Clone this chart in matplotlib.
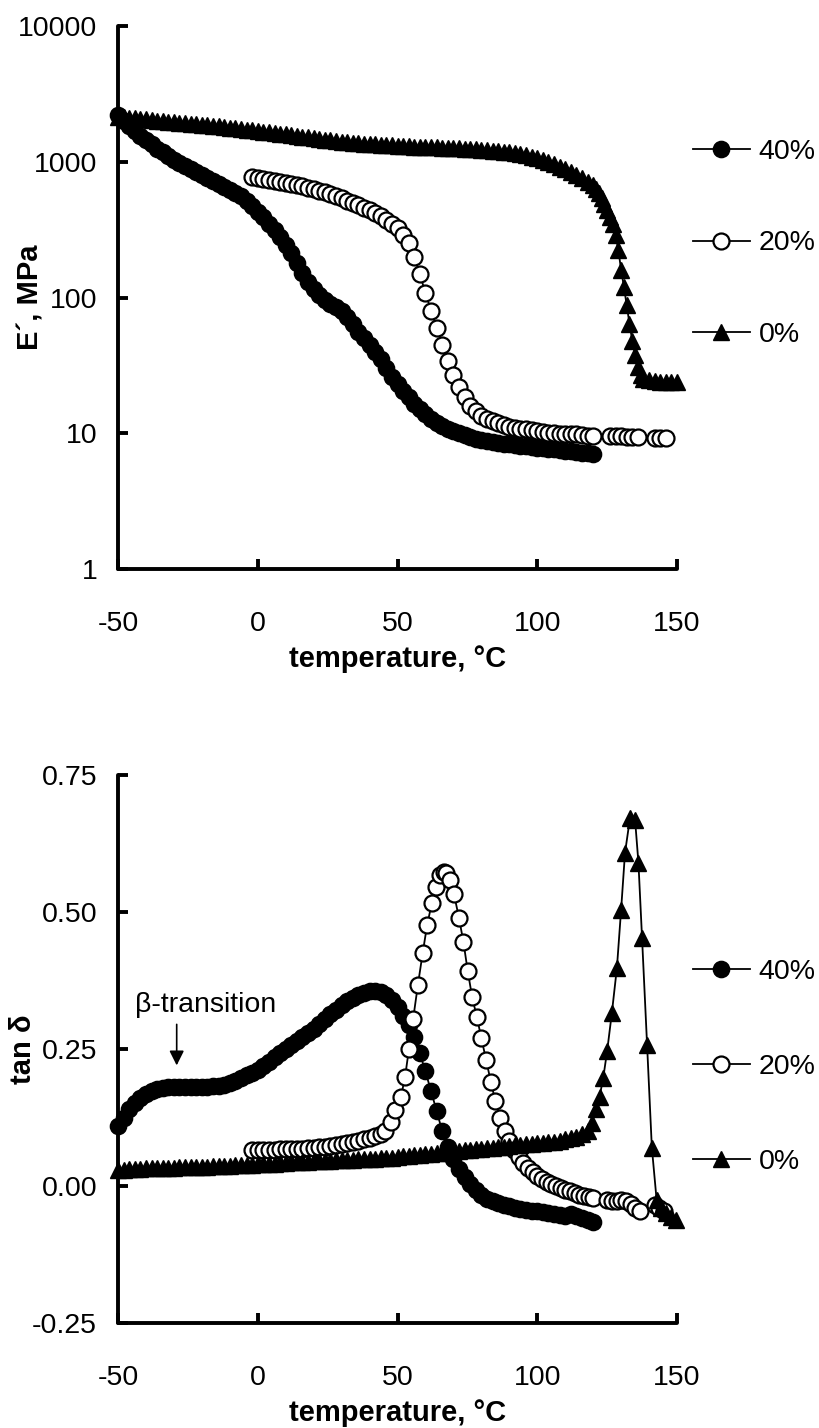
import matplotlib
matplotlib.use("Agg")
import matplotlib.pyplot as plt
from matplotlib.ticker import FixedLocator, FixedFormatter

plt.rcParams['font.family'] = ['Liberation Sans', 'DejaVu Sans']
plt.rcParams['axes.unicode_minus'] = False

# ---------------- data: storage modulus E' (MPa) ----------------
T40 = [-50, -48, -46, -44, -42, -40, -38, -36, -34, -32, -30, -28, -26, -24, -22, -20,
       -18, -16, -14, -12, -10, -8, -6, -4, -2, 0, 2, 4, 6, 8, 10, 12, 14, 16, 18, 20,
       22, 24, 26, 28, 30, 32, 34, 36, 38, 40, 42, 44, 46, 48, 50, 52, 54, 56, 58, 60,
       62, 64, 66, 68, 70, 72, 74, 76, 78, 80, 82, 84, 86, 88, 90, 92, 94, 96, 98, 100,
       102, 104, 106, 108, 110, 112, 114, 116, 118, 120]
E40 = [2200, 2000, 1830, 1680, 1550, 1440, 1340, 1250, 1170, 1100, 1030, 975, 925, 880, 840, 805,
       765, 725, 690, 655, 622, 590, 555, 515, 475, 430, 390, 350, 315, 280, 245, 212, 180, 152, 130, 115,
       104, 96, 90, 85, 79, 72, 64, 56, 50, 45, 40, 35, 30, 26, 23, 20.5, 18.5, 16.5, 15, 13.8,
       12.8, 12, 11.3, 10.8, 10.4, 10, 9.7, 9.4, 9.1, 8.9, 8.7, 8.6, 8.5, 8.4, 8.3, 8.2, 8.1, 8.0, 7.9, 7.8,
       7.75, 7.7, 7.6, 7.5, 7.4, 7.35, 7.3, 7.2, 7.1, 7.05]

T20E = [-2, 0, 2, 4, 6, 8, 10, 12, 14, 16, 18, 20, 22, 24, 26, 28, 30, 32, 34, 36, 38, 40,
        42, 44, 46, 48, 50, 52, 54, 56, 58, 60, 62, 64, 66, 68, 70, 72, 74, 76, 78, 80,
        82, 84, 86, 88, 90, 92, 94, 96, 98, 100, 102, 104, 106, 108, 110, 112, 114, 116, 118, 120,
        126, 128, 130, 132, 134, 136, 142, 144, 146]
E20 = [770, 760, 750, 740, 726, 713, 700, 686, 672, 658, 644, 628, 612, 594, 575, 556, 537, 518, 498, 478, 458, 438,
       417, 396, 373, 349, 323, 290, 250, 200, 148, 108, 80, 60, 45, 34, 27, 22, 18.5, 16, 14.5, 13.4,
       12.7, 12.3, 11.9, 11.5, 11.2, 11.0, 10.8, 10.7, 10.5, 10.4, 10.25, 10.1, 10.0, 9.95, 9.9, 9.85, 9.8, 9.7, 9.6, 9.6,
       9.5, 9.5, 9.5, 9.45, 9.4, 9.4, 9.3, 9.3, 9.3]

T0E = [-50, -48, -46, -44, -42, -40, -38, -36, -34, -32, -30, -28, -26, -24, -22, -20,
       -18, -16, -14, -12, -10, -8, -6, -4, -2, 0, 2, 4, 6, 8, 10, 12, 14, 16, 18, 20,
       22, 24, 26, 28, 30, 32, 34, 36, 38, 40, 42, 44, 46, 48, 50, 52, 54, 56, 58, 60,
       62, 64, 66, 68, 70, 72, 74, 76, 78, 80, 82, 84, 86, 88, 90, 92, 94, 96, 98, 100,
       102, 104, 106, 108, 110, 112, 114, 116, 118, 120, 121, 122, 123, 124, 125, 126, 127, 128,
       129, 130, 131, 132, 133, 134, 135, 136, 137, 138, 140, 142, 144, 146, 148, 150]
E0 = [2150, 2130, 2110, 2090, 2070, 2050, 2030, 2010, 1990, 1970, 1950, 1935, 1920, 1905, 1890, 1875,
      1860, 1840, 1820, 1800, 1780, 1760, 1740, 1720, 1705, 1690, 1670, 1650, 1630, 1610, 1590, 1570, 1550, 1530, 1510, 1490,
      1472, 1455, 1438, 1420, 1400, 1388, 1378, 1368, 1359, 1350, 1342, 1334, 1326, 1318, 1310, 1305, 1300, 1295, 1290, 1285,
      1280, 1275, 1270, 1265, 1260, 1254, 1247, 1240, 1232, 1224, 1215, 1205, 1195, 1184, 1172, 1158, 1140, 1118, 1092, 1062,
      1030, 996, 960, 922, 882, 842, 800, 758, 715, 670, 632, 590, 540, 490, 440, 395, 345, 290,
      225, 160, 120, 88, 64, 48, 38, 31, 27, 25, 24.5, 24.2, 24, 24, 24, 24]

# ---------------- data: loss factor tan delta ----------------
D40 = [0.110, 0.125, 0.140, 0.152, 0.161, 0.168, 0.173, 0.177, 0.179, 0.180, 0.181, 0.181, 0.180, 0.180, 0.180, 0.180,
       0.181, 0.182, 0.183, 0.185, 0.188, 0.192, 0.197, 0.202, 0.207, 0.212, 0.219, 0.227, 0.235, 0.243, 0.250, 0.257,
       0.265, 0.272, 0.280, 0.287, 0.295, 0.304, 0.313, 0.322, 0.330, 0.337, 0.343, 0.348, 0.352, 0.355, 0.356, 0.354,
       0.348, 0.339, 0.326, 0.311, 0.294, 0.271, 0.242, 0.209, 0.173, 0.137, 0.100, 0.072, 0.050, 0.031, 0.016, 0.004,
       -0.007, -0.016, -0.023, -0.028, -0.031, -0.034, -0.037, -0.040, -0.042, -0.044, -0.045, -0.046, -0.047, -0.049,
       -0.051, -0.053, -0.054, -0.052, -0.055, -0.058, -0.062, -0.065]

T20D = [-2, 0, 2, 4, 6, 8, 10, 12, 14, 16, 18, 20, 22, 24, 26, 28, 30, 32, 34, 36, 38, 40, 42, 44,
        45.5, 47.6, 49, 51.2, 52.7, 54.1, 55.6, 57.3, 59, 60.6, 62.3, 63.8, 65.2, 66.5, 67.5, 68.8, 70.2,
        72, 73.6, 75.1, 76.7, 78.4, 80, 81.7, 83.4, 85, 86.7, 88.4, 90, 91.7, 93.4, 95, 96.7, 98.4, 100,
        101.7, 103.4, 105, 106.7, 108.4, 110, 111.7, 113.4, 115, 116.7, 118.4, 120,
        125, 126.7, 128.4, 130, 131.7, 133.4, 135, 136.7, 142, 143.7, 145.3]
D20 = [0.066, 0.066, 0.066, 0.066, 0.066, 0.067, 0.067, 0.067, 0.068, 0.068, 0.069, 0.070, 0.071, 0.072, 0.073, 0.074,
       0.076, 0.078, 0.080, 0.082, 0.085, 0.088, 0.091, 0.095,
       0.100, 0.117, 0.139, 0.162, 0.199, 0.250, 0.305, 0.367, 0.425, 0.476, 0.517, 0.546, 0.567, 0.573, 0.571,
       0.558, 0.533, 0.489, 0.445, 0.393, 0.345, 0.308, 0.270, 0.230, 0.190, 0.155, 0.125, 0.100, 0.082, 0.066, 0.053,
       0.042, 0.033, 0.025, 0.019, 0.013, 0.008, 0.004, 0.000, -0.004, -0.007, -0.010, -0.013, -0.016, -0.018, -0.020,
       -0.022, -0.025, -0.027, -0.028, -0.026, -0.028, -0.032, -0.040, -0.045, -0.035, -0.040, -0.045]

T0D = [-50, -48, -46, -44, -42, -40, -38, -36, -34, -32, -30, -28, -26, -24, -22, -20,
       -18, -16, -14, -12, -10, -8, -6, -4, -2, 0, 2, 4, 6, 8, 10, 12, 14, 16, 18, 20,
       22, 24, 26, 28, 30, 32, 34, 36, 38, 40, 42, 44, 46, 48, 50, 52, 54, 56, 58, 60,
       62, 64, 66, 68, 70, 72, 74, 76, 78, 80, 82, 84, 86, 88, 90, 92, 94, 96, 98, 100,
       102, 104, 106, 108, 110, 112, 114, 116, 118, 119.5, 121, 122.3, 123.6, 125, 126.7, 128.5,
       130, 131.4, 133.2, 135, 136.2, 137.5, 139.3, 141, 142.7, 144.3, 146, 147.7, 149.5]
D0 = [0.030, 0.030, 0.031, 0.031, 0.031, 0.032, 0.032, 0.032, 0.033, 0.033, 0.033, 0.034, 0.034, 0.034, 0.035, 0.035,
      0.035, 0.036, 0.036, 0.037, 0.037, 0.038, 0.038, 0.039, 0.039, 0.040, 0.040, 0.041, 0.041, 0.042, 0.042, 0.043,
      0.043, 0.044, 0.044, 0.045, 0.045, 0.046, 0.046, 0.047, 0.047, 0.048, 0.048, 0.049, 0.049, 0.050, 0.050, 0.051,
      0.051, 0.052, 0.053, 0.054, 0.055, 0.056, 0.057, 0.058, 0.059, 0.060, 0.061, 0.062, 0.063, 0.064, 0.065, 0.066,
      0.067, 0.068, 0.069, 0.070, 0.071, 0.072, 0.073, 0.074, 0.075, 0.076, 0.077, 0.078, 0.079, 0.080, 0.081, 0.083,
      0.085, 0.087, 0.090, 0.094, 0.100, 0.115, 0.140, 0.163, 0.197, 0.246, 0.316, 0.398,
      0.504, 0.608, 0.672, 0.668, 0.590, 0.452, 0.257, 0.070, -0.025, -0.040, -0.050, -0.057, -0.062]

labels = ['40%', '20%', '0%']
xticks = [-50, 0, 50, 100, 150]
yticks_top = [1, 10, 100, 1000, 10000]
yticks_top_labels = ['1', '10', '100', '1000', '10000']
yticks_bot = [-0.25, 0.0, 0.25, 0.5, 0.75]
yticks_bot_labels = ['-0.25', '0.00', '0.25', '0.50', '0.75']

W, H = 820, 1428
fig = plt.figure(figsize=(W / 100, H / 100), dpi=100)

def px_axes(left, top, right, bottom):
    return fig.add_axes([left / W, 1 - bottom / H, (right - left) / W, (bottom - top) / H])

ax1 = px_axes(118, 26, 677, 569)
ax2 = px_axes(118, 775, 677, 1323)

FS = 20.5
FSL = 21
ms = 11.5
styles = [dict(marker='o', mfc='black', mec='black', mew=1.2),
          dict(marker='o', mfc='white', mec='black', mew=1.6),
          dict(marker='^', mfc='black', mec='black', mew=1.0)]

def style_axes(ax):
    for s in ['top', 'right']:
        ax.spines[s].set_visible(False)
    for s in ['left', 'bottom']:
        ax.spines[s].set_linewidth(2.8)
        ax.spines[s].set_capstyle('round')
    ax.tick_params(axis='both', direction='in', length=7, width=2.8, labelsize=FS,
                   top=False, right=False)
    ax.tick_params(axis='y', pad=15)
    ax.tick_params(axis='x', pad=30)
    ax.set_xlim(-50, 150)
    ax.xaxis.set_major_locator(FixedLocator(xticks))
    ax.xaxis.set_major_formatter(FixedFormatter([str(v) for v in xticks]))

# ---- top panel ----
series_top = [(T40, E40), (T20E, E20), (T0E, E0)]
h1 = []
for (tx, ty), st, lb in zip(series_top, styles, labels):
    ln, = ax1.plot(tx, ty, color='black', lw=1.3, ms=ms, clip_on=False, label=lb, **st)
    h1.append(ln)
ax1.set_yscale('log')
ax1.set_ylim(1, 10000)
style_axes(ax1)
ax1.yaxis.set_major_locator(FixedLocator(yticks_top))
ax1.yaxis.set_major_formatter(FixedFormatter(yticks_top_labels))
ax1.yaxis.set_minor_locator(FixedLocator([]))
ax1.set_xlabel('temperature, °C', fontsize=FSL, fontweight='bold', labelpad=6)
ax1.set_ylabel('E´, MPa', fontsize=FSL, fontweight='bold')
ax1.yaxis.set_label_coords(-0.132, 0.5)

# ---- bottom panel ----
series_bot = [(T40, D40), (T20D, D20), (T0D, D0)]
h2 = []
for (tx, ty), st, lb in zip(series_bot, styles, labels):
    ln, = ax2.plot(tx, ty, color='black', lw=1.3, ms=ms, clip_on=False, label=lb, **st)
    h2.append(ln)
ax2.set_ylim(-0.25, 0.75)
style_axes(ax2)
ax2.yaxis.set_major_locator(FixedLocator(yticks_bot))
ax2.yaxis.set_major_formatter(FixedFormatter(yticks_bot_labels))
ax2.set_xlabel('temperature, °C', fontsize=FSL, fontweight='bold', labelpad=6)
ax2.set_ylabel('tan δ', fontsize=FSL, fontweight='bold')
ax2.yaxis.set_label_coords(-0.145, 0.5)

ax2.annotate('', xy=(-29, 0.215), xytext=(-29, 0.300),
             arrowprops=dict(arrowstyle='-|>', color='black', lw=1.2, mutation_scale=22))
ax2.text(-44, 0.318, 'β-transition', fontsize=FS, ha='left', va='baseline')

leg_kw = dict(frameon=False, fontsize=FS, handlelength=2.0, handletextpad=0.3,
              borderpad=0, borderaxespad=0, loc='upper left',
              bbox_transform=fig.transFigure, numpoints=1)
fig.legend(handles=h1, bbox_to_anchor=(693 / W, 1 - 139 / H), labelspacing=2.3, **leg_kw)
fig.legend(handles=h2, bbox_to_anchor=(693 / W, 1 - 959 / H), labelspacing=2.42, **leg_kw)

fig.savefig('out.png', dpi=100)
